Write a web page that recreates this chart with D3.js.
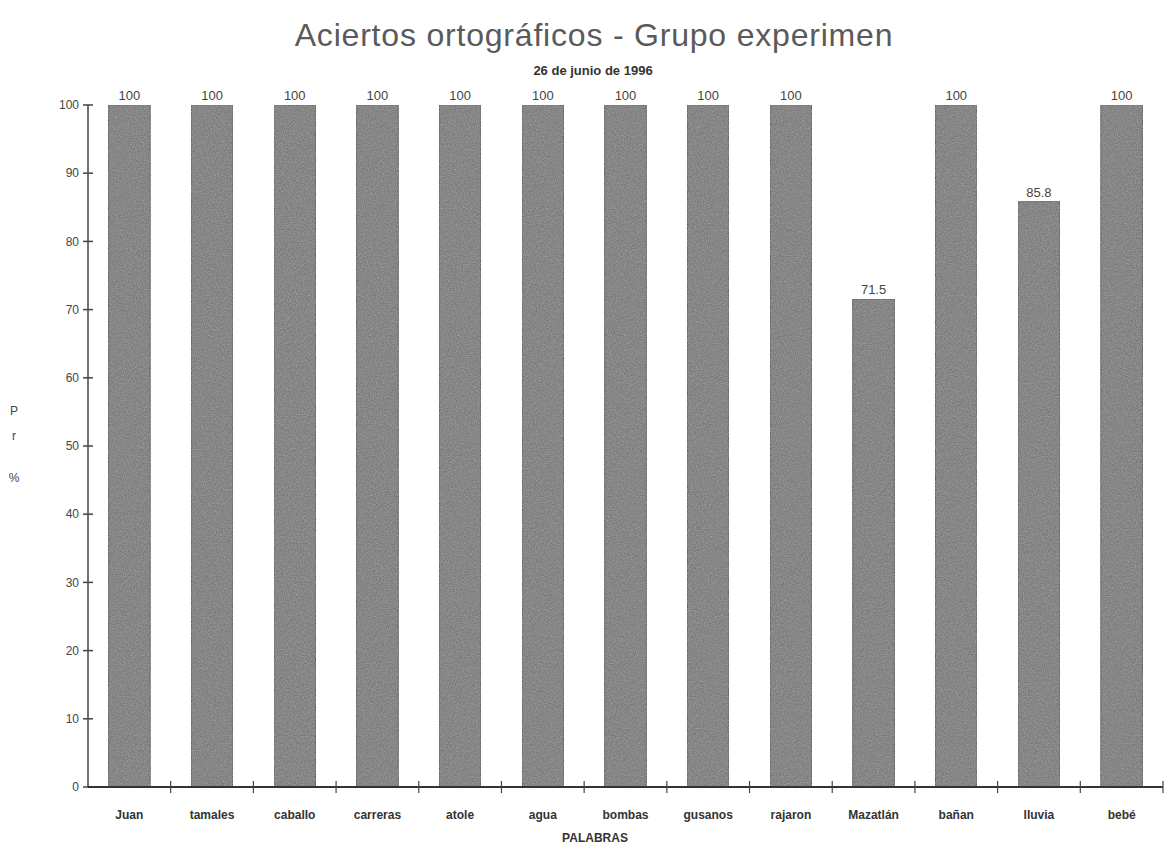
<!DOCTYPE html>
<html>
<head>
<meta charset="utf-8">
<script src="https://cdn.jsdelivr.net/npm/d3@7/dist/d3.min.js"></script>
<style>
  html, body { margin: 0; padding: 0; background: #fff; }
  svg { display: block; }
  text { font-family: "Liberation Sans", Arial, sans-serif; }
</style>
</head>
<body>
<svg id="chart" width="1168" height="846"></svg>
<script>
// Word list and percentage of correct spellings
const categories = ["Juan", "tamales", "caballo", "carreras", "atole", "agua", "bombas",
                    "gusanos", "rajaron", "Mazatlán", "bañan", "lluvia", "bebé"];
const values = [100, 100, 100, 100, 100, 100, 100, 100, 100, 71.5, 100, 85.8, 100];
const yTicks = [0, 10, 20, 30, 40, 50, 60, 70, 80, 90, 100];
const titleText = "Aciertos ortográficos - Grupo experimen";
const subtitleText = "26 de junio de 1996";
const xTitle = "PALABRAS";
const yTitleLetters = ["P", "r", "%"];

const svg = d3.select("#chart");
const plotLeft = 88, plotRight = 1163, plotTop = 105, plotBottom = 787;

const x = d3.scaleBand().domain(categories).range([plotLeft, plotRight])
  .paddingInner(0.5).paddingOuter(0.25);
const y = d3.scaleLinear().domain([0, 100]).range([plotBottom, plotTop]);

// grainy grey fill for the bars
const defs = svg.append("defs");
const f = defs.append("filter").attr("id", "grain")
  .attr("x", 0).attr("y", 0).attr("width", 1).attr("height", 1);
f.append("feTurbulence").attr("type", "fractalNoise").attr("baseFrequency", 0.85)
  .attr("numOctaves", 2).attr("seed", 4).attr("result", "noise");
f.append("feColorMatrix").attr("in", "noise").attr("type", "matrix")
  .attr("values", "0 0 0 0 0.35  0 0 0 0 0.35  0 0 0 0 0.35  0.9 0.9 0.9 0 -1.05")
  .attr("result", "speck");
f.append("feComposite").attr("in", "speck").attr("in2", "SourceGraphic")
  .attr("operator", "atop").attr("result", "sp");
f.append("feMerge").selectAll("feMergeNode").data(["SourceGraphic", "sp"]).join("feMergeNode")
  .attr("in", d => d);

// Bars
svg.append("g").selectAll("rect").data(categories).join("rect")
  .attr("x", d => x(d))
  .attr("y", (d, i) => y(values[i]))
  .attr("width", x.bandwidth())
  .attr("height", (d, i) => y(0) - y(values[i]))
  .attr("fill", "#7a7a7a")
  .attr("stroke", "#5f5f5f")
  .attr("stroke-width", 1)
  .attr("filter", "url(#grain)");

// Value labels
svg.append("g").selectAll("text").data(categories).join("text")
  .attr("x", d => x(d) + x.bandwidth() / 2)
  .attr("y", (d, i) => y(values[i]) - 5)
  .attr("text-anchor", "middle")
  .attr("font-size", 13)
  .attr("fill", "#444")
  .text((d, i) => String(values[i]));

// Y axis
const yAxis = svg.append("g");
yAxis.append("line").attr("x1", plotLeft).attr("x2", plotLeft).attr("y1", plotTop).attr("y2", plotBottom)
  .attr("stroke", "#444").attr("stroke-width", 1.5);
yAxis.selectAll("line.tick").data(yTicks).join("line").attr("class", "tick")
  .attr("x1", plotLeft - 5).attr("x2", plotLeft + 5)
  .attr("y1", d => y(d)).attr("y2", d => y(d))
  .attr("stroke", "#444").attr("stroke-width", 1.5);
yAxis.selectAll("text").data(yTicks).join("text")
  .attr("x", plotLeft - 9).attr("y", d => y(d)).attr("dy", "0.35em")
  .attr("text-anchor", "end").attr("font-size", 12).attr("fill", "#444")
  .text(d => d);

// X axis
const xAxis = svg.append("g");
xAxis.append("line").attr("x1", plotLeft).attr("x2", plotRight).attr("y1", plotBottom).attr("y2", plotBottom)
  .attr("stroke", "#333").attr("stroke-width", 2);
const bounds = categories.map(c => x(c) + x.bandwidth() + x.step() * 0.25);
xAxis.selectAll("line.tick").data(bounds).join("line").attr("class", "tick")
  .attr("x1", d => d).attr("x2", d => d)
  .attr("y1", plotBottom - 6).attr("y2", plotBottom + 6)
  .attr("stroke", "#444").attr("stroke-width", 1.2);
xAxis.selectAll("text").data(categories).join("text")
  .attr("x", d => x(d) + x.bandwidth() / 2)
  .attr("y", 819)
  .attr("text-anchor", "middle").attr("font-size", 12).attr("font-weight", "bold")
  .attr("fill", "#333")
  .text(d => d);

// Titles
svg.append("text").attr("x", 594).attr("y", 46).attr("text-anchor", "middle")
  .attr("font-size", 32).attr("fill", "#5a5a5a").attr("letter-spacing", 0.8).text(titleText);
svg.append("text").attr("x", 593).attr("y", 75).attr("text-anchor", "middle")
  .attr("font-size", 13).attr("font-weight", "bold").attr("fill", "#333").text(subtitleText);
svg.append("text").attr("x", 595).attr("y", 842).attr("text-anchor", "middle")
  .attr("font-size", 12).attr("font-weight", "bold").attr("fill", "#333").text(xTitle);
svg.append("g").selectAll("text").data(yTitleLetters).join("text")
  .attr("x", 14).attr("y", (d, i) => [415, 440, 482][i])
  .attr("text-anchor", "middle").attr("font-size", 12).attr("fill", "#444")
  .text(d => d);
</script>
</body>
</html>
